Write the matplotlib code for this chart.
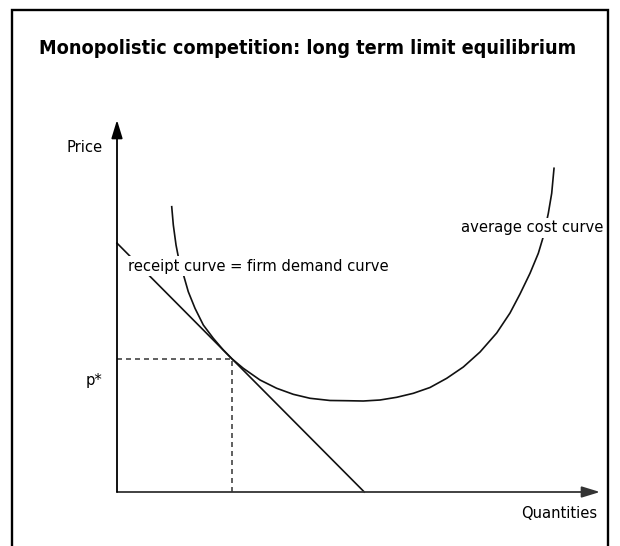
import matplotlib
matplotlib.use("Agg")
import matplotlib.pyplot as plt
from matplotlib import font_manager
from matplotlib.patches import Rectangle

# Demand line: price intercept and quantity intercept
demand_q = [0.0, 5.12]
demand_p = [6.69, 0.0]

# Long-run equilibrium (tangency of demand and average cost)
q_star = 2.38
p_star = 3.58

# Average cost curve, U-shaped
ac_q = [1.133, 1.166, 1.222, 1.269, 1.387, 1.476, 1.615, 1.787, 1.994,
        2.201, 2.380, 2.615, 2.961, 3.306, 3.650, 3.996, 4.410, 4.756,
        5.099, 5.445, 5.791, 6.135, 6.480, 6.826, 7.170, 7.516, 7.861,
        8.137, 8.344, 8.551, 8.723, 8.826, 8.930, 9.000, 9.048]
ac_p = [7.669, 7.177, 6.640, 6.325, 5.788, 5.384, 4.938, 4.489, 4.132,
        3.817, 3.580, 3.325, 3.011, 2.788, 2.626, 2.519, 2.460, 2.454,
        2.446, 2.473, 2.546, 2.653, 2.809, 3.056, 3.360, 3.763, 4.274,
        4.812, 5.323, 5.879, 6.417, 6.863, 7.492, 8.030, 8.702]

title = "Monopolistic competition: long term limit equilibrium"
demand_label = "receipt curve = firm demand curve"
ac_label = "average cost curve"
x_label = "Quantities"
y_label = "Price"
p_label = "p*"

# narrow font if we have one
installed = {f.name for f in font_manager.fontManager.ttflist}
if "Liberation Sans Narrow" in installed:
    narrow = dict(family="Liberation Sans Narrow")
else:
    narrow = dict(family="DejaVu Sans", fontstretch="condensed")

W, H = 620, 546
fig = plt.figure(figsize=(W / 100, H / 100), dpi=100)

# outer frame (open at the bottom)
fig.patches.append(Rectangle((12 / W, -0.02), (608 - 12) / W, 1.02 - 10 / H,
                             transform=fig.transFigure, fill=False,
                             edgecolor="black", linewidth=1.7))

fig.text(39 / W, 1 - 48 / H, title, fontsize=14.2, fontweight="bold",
         va="center", ha="left", **narrow)

# axes box: origin at (117, 492) px, x tip at 600 px, y tip at 120 px
ax = fig.add_axes([117 / W, 1 - 492 / H, (600 - 117) / W, (492 - 120) / H])
ax.set_xlim(0, 10)
ax.set_ylim(0, 10)
ax.axis("off")

arrow = dict(arrowstyle="-|>,head_length=0.85,head_width=0.26",
             mutation_scale=13, shrinkA=0, shrinkB=0, lw=1.3)
ax.annotate("", xy=(10, 0), xytext=(0, 0),
            arrowprops=dict(arrow, color="#333333"), annotation_clip=False)
ax.annotate("", xy=(0, 10), xytext=(0, 0),
            arrowprops=dict(arrow, color="black"), annotation_clip=False)

# equilibrium guides
ax.plot([0, q_star], [p_star, p_star], color="#444444", lw=1.2,
        dashes=(3.0, 2.4), clip_on=False)
ax.plot([q_star, q_star], [0, p_star], color="#444444", lw=1.2,
        dashes=(3.0, 2.4), clip_on=False)

ax.plot(demand_q, demand_p, color="#111111", lw=1.2, clip_on=False,
        solid_joinstyle="round")
ax.plot(ac_q, ac_p, color="#111111", lw=1.2, clip_on=False,
        solid_joinstyle="round")

box = dict(facecolor="white", edgecolor="none", pad=1.5)
ax.text(0.228, 6.075, demand_label, fontsize=11.8, ha="left", va="center",
        bbox=box, zorder=5, **narrow)
ax.text(7.12, 7.10, ac_label, fontsize=11.8, ha="left", va="center",
        bbox=box, zorder=5, **narrow)
ax.text(9.94, -0.565, x_label, fontsize=11.8, ha="right", va="center",
        **narrow)
ax.text(-0.29, 9.27, y_label, fontsize=11.8, ha="right", va="center",
        **narrow)
ax.text(-0.31, 3.01, p_label, fontsize=11.8, ha="right", va="center",
        **narrow)

fig.savefig("out.png", dpi=100)
